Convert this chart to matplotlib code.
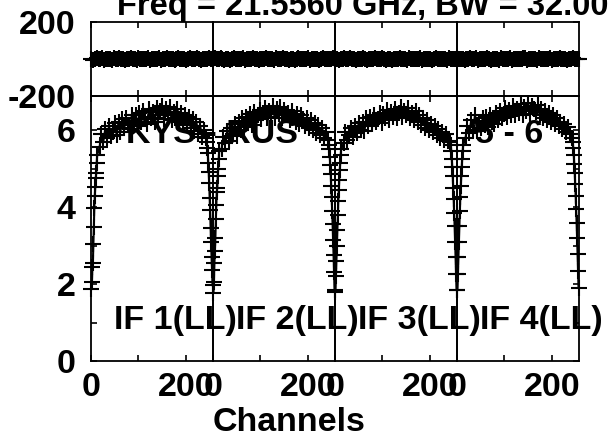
import matplotlib
matplotlib.use('Agg')
import matplotlib.pyplot as plt

plt.rcParams['font.family'] = ['Liberation Sans', 'DejaVu Sans']
plt.rcParams['font.weight'] = 'bold'
plt.rcParams['font.size'] = 24.5

# channels used for the amplitude curves (band edges are steep)
amp_chan = list(range(1, 14)) + list(range(18, 239, 4)) + list(range(243, 257))
ph_chan = list(range(0, 257, 4))

if_names = ['IF 1(LL)', 'IF 2(LL)', 'IF 3(LL)', 'IF 4(LL)']

amp_if1 = ([1.87, 2.05, 2.45, 2.55, 3.05, 3.48, 3.97, 4.29, 4.52, 4.75, 4.88, 5.14, 5.35]
           + [5.55, 5.90, 5.70, 6.02, 5.78, 6.10, 5.85, 5.95, 6.18, 5.88,
              6.20, 5.95, 6.28, 6.05, 6.32, 6.12, 6.02, 6.38, 6.15, 6.40,
              6.10, 6.45, 6.22, 6.50, 6.28, 6.15, 6.55, 6.30, 6.48, 6.20,
              6.58, 6.32, 6.50, 6.62, 6.28, 6.55, 6.40, 6.60, 6.25, 6.48,
              6.30, 6.55, 6.22, 6.45, 6.18, 6.40, 6.12, 6.35, 6.05, 6.28,
              5.98, 6.20, 5.90, 6.10, 5.82, 6.00]
           + [5.78, 5.70, 5.53, 5.40, 5.14, 4.90, 4.62, 4.23, 3.92, 3.45, 3.09, 2.70, 2.36, 1.97])
amp_if2 = ([1.77, 2.05, 2.55, 2.85, 3.20, 3.69, 4.05, 4.40, 4.49, 4.80, 5.00, 5.25, 5.45]
           + [5.50, 5.82, 5.65, 5.98, 5.72, 6.05, 5.90, 6.15, 5.85, 6.22,
              6.00, 6.30, 6.08, 6.35, 6.18, 6.42, 6.12, 6.48, 6.25, 6.40,
              6.52, 6.28, 6.45, 6.58, 6.30, 6.50, 6.35, 6.62, 6.32, 6.55,
              6.42, 6.60, 6.30, 6.52, 6.38, 6.45, 6.25, 6.50, 6.35, 6.20,
              6.42, 6.15, 6.38, 6.28, 6.10, 6.32, 6.05, 6.25, 6.00, 6.18,
              5.92, 6.12, 5.88, 6.05, 5.80, 5.95]
           + [5.75, 5.62, 5.50, 5.30, 5.10, 4.85, 4.55, 4.25, 3.90, 3.55, 3.15, 2.75, 2.30, 1.85])
amp_if3 = ([1.80, 2.20, 2.60, 3.00, 3.40, 3.80, 4.15, 4.45, 4.70, 4.95, 5.15, 5.35, 5.50]
           + [5.65, 5.95, 5.75, 5.88, 6.05, 5.82, 6.10, 5.92, 6.18, 6.00,
              6.22, 5.98, 6.30, 6.10, 6.35, 6.15, 6.40, 6.20, 6.28, 6.45,
              6.18, 6.42, 6.30, 6.52, 6.25, 6.48, 6.35, 6.55, 6.30, 6.45,
              6.60, 6.35, 6.50, 6.40, 6.58, 6.30, 6.45, 6.25, 6.50, 6.20,
              6.38, 6.12, 6.30, 6.05, 6.25, 6.00, 6.15, 5.95, 6.10, 5.88,
              6.02, 5.80, 5.95, 5.75, 5.90, 5.72]
           + [5.70, 5.60, 5.45, 5.25, 5.05, 4.80, 4.50, 4.20, 3.85, 3.50, 3.10, 2.70, 2.25, 1.85])
amp_if4 = ([1.85, 2.25, 2.70, 3.10, 3.50, 3.90, 4.25, 4.55, 4.80, 5.05, 5.25, 5.45, 5.60]
           + [5.80, 6.10, 5.92, 6.25, 6.00, 6.40, 5.98, 6.20, 6.05, 6.30,
              6.12, 6.35, 6.08, 6.40, 6.22, 6.15, 6.45, 6.25, 6.50, 6.30,
              6.42, 6.58, 6.35, 6.52, 6.40, 6.62, 6.38, 6.55, 6.45, 6.68,
              6.40, 6.60, 6.50, 6.70, 6.42, 6.62, 6.55, 6.48, 6.65, 6.38,
              6.55, 6.30, 6.50, 6.25, 6.45, 6.20, 6.38, 6.15, 6.30, 6.10,
              6.22, 6.02, 6.15, 5.95, 6.08, 5.90]
           + [5.80, 5.68, 5.52, 5.35, 5.12, 4.88, 4.60, 4.28, 3.95, 3.58, 3.20, 2.78, 2.35, 1.90])

ph_if1 = [2, -3, 1, 4, -2, 0, 3, -4, 1, -1, 2, -3, 4, 0, -2, 3, -1, 1, -4, 2, 0, 3, -2,
          1, -3, 4, -1, 2, 0, -2, 3, -4, 1, 2, -1, 0, 4, -3, 1, -2, 3, 0, -1, 2, -4, 1,
          3, -2, 0, 2, -3, 1, 4, -1, 0, -2, 3, 1, -4, 2, -1, 0, 3, -2, 1]
ph_if2 = [-1, 3, 0, -2, 4, 1, -3, 2, 0, -4, 1, 3, -2, 0, 2, -1, 4, -3, 1, 0, -2, 3, -1,
          2, -4, 0, 1, -2, 3, -1, 2, 0, -3, 4, 1, -2, 0, 3, -1, 2, -4, 1, 0, -3, 2, 4,
          -1, 1, -2, 0, 3, -4, 2, 1, -1, 0, -3, 2, 4, -2, 1, 0, -1, 3, -2]
ph_if3 = [0, 2, -3, 1, -1, 4, -2, 0, 3, -1, 2, -4, 1, 0, -2, 3, 1, -3, 2, -1, 0, 4, -2,
          1, -1, 3, 0, -3, 2, 1, -4, 0, 2, -1, 3, -2, 1, 0, -3, 4, -1, 2, 0, -2, 1, 3,
          -4, 0, 2, -1, 1, -3, 0, 4, -2, 2, -1, 1, 0, -3, 3, -2, 1, 0, 2]
ph_if4 = [3, -1, 0, 2, -4, 1, -2, 3, 0, -1, 4, -3, 1, 2, -2, 0, 3, -1, -4, 1, 2, 0, -3,
          4, -1, 1, -2, 0, 3, -4, 2, 1, -1, 0, -2, 3, 4, -3, 0, 1, -1, 2, -4, 3, 0, -2,
          1, -1, 2, 4, -3, 0, 1, -2, 3, -1, 0, 2, -4, 1, -1, 3, 0, -2, 1]

amps = [amp_if1, amp_if2, amp_if3, amp_if4]
phases = [ph_if1, ph_if2, ph_if3, ph_if4]

W, H = 609, 438
fig = plt.figure(figsize=(W / 100, H / 100), dpi=100)

x0, pw = 91, 122
style = dict(color='black', lw=1.5, marker='+', ms=11, mew=1.5, clip_on=False, zorder=3)

for i in range(4):
    left = (x0 + pw * i) / W
    ax_ph = fig.add_axes([left, 1 - 96 / H, pw / W, 74 / H])
    ax_amp = fig.add_axes([left, 1 - 361 / H, pw / W, 265 / H])

    for ax in (ax_ph, ax_amp):
        ax.patch.set_visible(False)
        ax.set_xlim(0, 257)
        for s in ax.spines.values():
            s.set_linewidth(1.3)
        ax.tick_params(direction='in', length=4.5, width=1.2, top=True,
                       left=(i == 0), right=(i == 3), pad=8)
        ax.set_xticks([0, 100, 200])
        ax.set_xticklabels([])

    ax_ph.plot(ph_chan, phases[i], **style)
    ax_ph.set_ylim(-200, 200)
    ax_ph.set_yticks([-200, 200])

    ax_amp.plot(amp_chan, amps[i], **style)
    ax_amp.set_ylim(0, 265 / 38.5)
    ax_amp.set_yticks([0, 1, 2, 3, 4, 5, 6])
    ax_amp.set_xticklabels(['0', '', '200'])

    if i == 0:
        ax_ph.set_yticklabels(['-200', '200'])
        ax_amp.set_yticklabels(['0', '', '2', '', '4', '', '6'])
        ax_ph.tick_params(axis='y', pad=11)
        ax_amp.tick_params(axis='y', pad=11)
    else:
        ax_ph.set_yticklabels([])
        ax_amp.set_yticklabels([])

    ax_amp.text(49.5, 0.83, if_names[i], ha='left', va='baseline', zorder=1)
    if i == 0:
        ax_amp.text(73.7, 5.66, 'KYS - RUS', ha='left', va='baseline', zorder=1)
    if i == 3:
        ax_amp.text(37, 5.66, '5 - 6', ha='left', va='baseline', zorder=1)

fig.text(117 / W, 1 - 15 / H, 'Freq = 21.5560 GHz, BW = 32.000 MHz',
         ha='left', va='baseline', fontsize=23.5)
fig.text(289 / W, 1 - 431 / H, 'Channels', ha='center', va='baseline')

fig.savefig('out.png', dpi=100)
